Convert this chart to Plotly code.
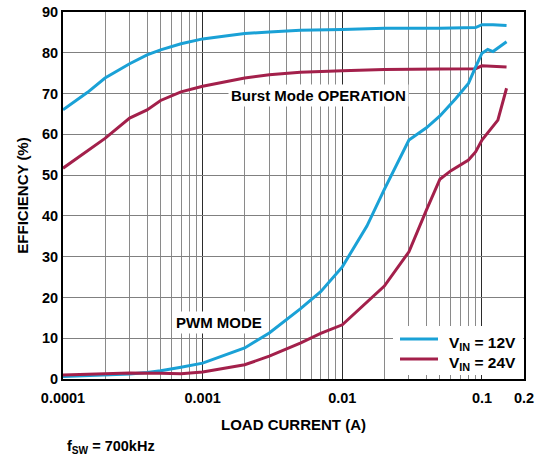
import plotly.graph_objects as go

# ---- data ----
x_12_burst = [0.0001, 0.00015, 0.0002, 0.0003, 0.0004, 0.0005, 0.0007, 0.001, 0.0015, 0.002,
              0.003, 0.005, 0.01, 0.02, 0.05, 0.09, 0.1, 0.12, 0.15]
y_12_burst = [66.0, 70.3, 73.8, 77.3, 79.5, 80.7, 82.2, 83.4, 84.2, 84.7,
              85.1, 85.5, 85.7, 86.0, 86.0, 86.2, 86.9, 86.9, 86.7]

x_24_burst = [0.0001, 0.0002, 0.0003, 0.0004, 0.0005, 0.0007, 0.001, 0.0015, 0.002, 0.003,
              0.005, 0.01, 0.02, 0.05, 0.09, 0.1, 0.12, 0.15]
y_24_burst = [51.7, 59.0, 64.0, 66.0, 68.3, 70.4, 71.8, 73.0, 73.8, 74.6,
              75.2, 75.6, 75.9, 76.0, 76.1, 76.8, 76.7, 76.5]

x_12_pwm = [0.0001, 0.0002, 0.0003, 0.0004, 0.0005, 0.0007, 0.001, 0.002, 0.003, 0.005,
            0.007, 0.01, 0.015, 0.02, 0.03, 0.04, 0.05, 0.065, 0.08, 0.09, 0.1, 0.11, 0.12, 0.15]
y_12_pwm = [0.6, 0.9, 1.2, 1.6, 2.0, 2.9, 3.9, 7.6, 11.3, 17.2,
            21.4, 27.5, 37.5, 46.5, 58.6, 61.6, 64.5, 68.8, 72.5, 76.5, 79.9, 80.8, 80.3, 82.7]

x_24_pwm = [0.0001, 0.0002, 0.0003, 0.0005, 0.0007, 0.001, 0.002, 0.003, 0.005, 0.007,
            0.01, 0.02, 0.03, 0.04, 0.05, 0.06, 0.08, 0.09, 0.1, 0.13, 0.15]
y_24_pwm = [1.0, 1.3, 1.5, 1.4, 1.3, 1.7, 3.5, 5.6, 8.8, 11.2,
            13.3, 22.8, 31.2, 41.4, 49.0, 51.1, 53.7, 55.7, 58.6, 63.5, 71.3]

x_tick_vals = [0.0001, 0.001, 0.01, 0.1, 0.2]
x_tick_text = ["0.0001", "0.001", "0.01", "0.1", "0.2"]
minor_vals = [m * 10.0 ** e for e in range(-4, -1) for m in range(2, 10)]

legend_names = ["V<sub>IN</sub> = 12V", "V<sub>IN</sub> = 24V"]

BLUE = "#1aa1d6"
RED = "#a3204b"
FONT = "Liberation Sans, Arial, sans-serif"

W, H = 550, 462
ML, MR, MT, MB = 63, 26, 12, 83
PL, PR, PT, PB = ML, W - MR, MT, H - MB


def px2paper_x(px):
    return (px - PL) / (PR - PL)


def px2paper_y(py):
    return (PB - py) / (PB - PT)


fig = go.Figure()
fig.add_trace(go.Scatter(x=x_12_burst, y=y_12_burst, mode="lines", line=dict(color=BLUE, width=3),
                         name=legend_names[0], showlegend=False))
fig.add_trace(go.Scatter(x=x_24_burst, y=y_24_burst, mode="lines", line=dict(color=RED, width=3),
                         name=legend_names[1], showlegend=False))
fig.add_trace(go.Scatter(x=x_12_pwm, y=y_12_pwm, mode="lines", line=dict(color=BLUE, width=3),
                         showlegend=False))
fig.add_trace(go.Scatter(x=x_24_pwm, y=y_24_pwm, mode="lines", line=dict(color=RED, width=3),
                         showlegend=False))

bold = dict(family=FONT, color="black", weight="bold")

annotations = [
    dict(x=-2.167, y=69.6, xref="x", yref="y", text="Burst Mode OPERATION", showarrow=False,
         bgcolor="white", borderpad=2, font=dict(size=15, **bold)),
    dict(x=-2.883, y=13.8, xref="x", yref="y", text="PWM MODE", showarrow=False,
         bgcolor="white", borderpad=2, font=dict(size=15, **bold)),
    dict(x=px2paper_x(65), y=px2paper_y(447), xref="paper", yref="paper",
         text="f<sub>SW</sub> = 700kHz", showarrow=False, xanchor="left", yanchor="middle",
         font=dict(size=14.5, **bold)),
]

# manual legend (box, swatches, labels)
shapes = [
    dict(type="rect", xref="paper", yref="paper", layer="above",
         x0=px2paper_x(393), x1=px2paper_x(PR - 1), y0=px2paper_y(375), y1=px2paper_y(326),
         fillcolor="white", line=dict(width=0)),
]
for i, (col, name) in enumerate(zip([BLUE, RED], legend_names)):
    ly = 339 + 20 * i
    shapes.append(dict(type="line", xref="paper", yref="paper", layer="above",
                       x0=px2paper_x(400), x1=px2paper_x(438),
                       y0=px2paper_y(ly), y1=px2paper_y(ly), line=dict(color=col, width=3)))
    annotations.append(dict(x=px2paper_x(447), y=px2paper_y(ly + 4), xref="paper", yref="paper",
                            text=name, showarrow=False, xanchor="left", yanchor="middle",
                            font=dict(size=15.5, **bold)))

fig.update_layout(
    width=W, height=H,
    margin=dict(l=ML, r=MR, t=MT, b=MB, autoexpand=False),
    paper_bgcolor="white", plot_bgcolor="white",
    font=dict(size=15, **bold),
    showlegend=False,
    xaxis=dict(
        type="log", range=[-4, -0.69897], automargin=False,
        tickmode="array", tickvals=x_tick_vals, ticktext=x_tick_text,
        showgrid=True, gridcolor="#2b2b2b", gridwidth=1.2,
        showline=True, linecolor="black", linewidth=2, mirror=True,
        ticks="", ticklabelstandoff=5, tickfont=dict(size=14.5, **bold),
        minor=dict(tickmode="array", tickvals=minor_vals, showgrid=True,
                   gridcolor="#8a8a8a", gridwidth=1, ticks=""),
        title=dict(text="LOAD CURRENT (A)", standoff=14, font=dict(size=15, **bold)),
        zeroline=False,
    ),
    yaxis=dict(
        range=[0, 90], dtick=10, automargin=False,
        showgrid=True, gridcolor="#808080", gridwidth=1,
        showline=True, linecolor="black", linewidth=2, mirror=True,
        ticks="", tickfont=dict(size=14.5, **bold),
        title=dict(text="EFFICIENCY (%)", standoff=10, font=dict(size=15, **bold)),
        zeroline=False,
    ),
    annotations=annotations,
    shapes=shapes,
)

fig.write_html("out.html")
